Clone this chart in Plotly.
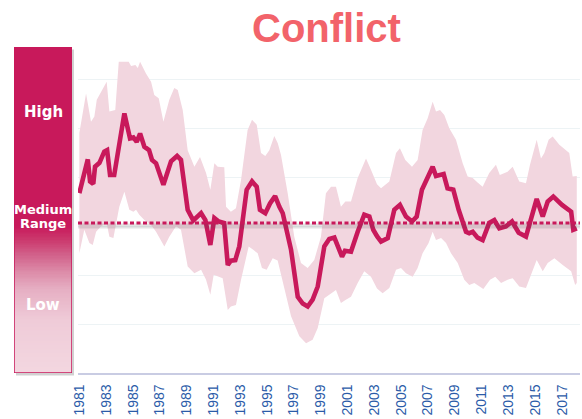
import numpy as np
import plotly.graph_objects as go

# ---------------- data ----------------
TITLE = "Conflict"

mean_years = [1981.00, 1981.63, 1981.80, 1982.04, 1982.17, 1982.50, 1982.86, 1983.07, 1983.29, 1983.60,
              1984.36, 1984.78, 1985.03, 1985.28, 1985.53, 1985.85, 1986.20, 1986.42, 1986.72, 1987.27,
              1987.84, 1988.29, 1988.58, 1989.08, 1989.50, 1990.08, 1990.40, 1990.77, 1991.07, 1991.40,
              1991.80, 1992.07, 1992.30, 1992.63, 1992.93, 1993.48, 1993.88, 1994.23, 1994.47, 1994.87,
              1995.22, 1995.60, 1995.92, 1996.17, 1996.79, 1997.29, 1997.66, 1998.03, 1998.40, 1998.78,
              1999.27, 1999.64, 2000.02, 2000.27, 2000.59, 2000.81, 2001.26, 2001.76, 2002.25, 2002.63,
              2002.92, 2003.20, 2003.50, 2004.00, 2004.49, 2004.91, 2005.36, 2005.81, 2006.16, 2006.55,
              2006.98, 2007.35, 2007.60, 2007.84, 2008.17, 2008.46, 2008.89, 2009.29, 2009.84, 2010.08,
              2010.34, 2010.70, 2011.08, 2011.57, 2011.95, 2012.32, 2012.82, 2013.27, 2013.77, 2014.31,
              2015.11, 2015.56, 2015.93, 2016.35, 2017.00, 2017.68, 2017.84, 2018.10]
mean_values = [3.68, 4.37, 3.92, 3.87, 4.22, 4.30, 4.53, 4.56, 4.05, 4.05,
               5.31, 4.80, 4.82, 4.73, 4.90, 4.63, 4.56, 4.36, 4.29, 3.85,
               4.33, 4.44, 4.36, 3.34, 3.12, 3.27, 3.13, 2.62, 3.17, 3.10,
               3.07, 2.21, 2.30, 2.31, 2.59, 3.75, 3.92, 3.81, 3.34, 3.27,
               3.47, 3.62, 3.40, 3.27, 2.52, 1.56, 1.42, 1.36, 1.50, 1.77,
               2.59, 2.74, 2.77, 2.59, 2.38, 2.50, 2.48, 2.89, 3.24, 3.20,
               2.93, 2.80, 2.69, 2.76, 3.34, 3.44, 3.20, 3.10, 3.20, 3.75,
               3.99, 4.22, 4.03, 4.05, 4.07, 3.78, 3.75, 3.34, 2.89, 2.86,
               2.89, 2.77, 2.72, 3.07, 3.13, 2.96, 3.00, 3.10, 2.87, 2.79,
               3.56, 3.20, 3.51, 3.61, 3.44, 3.30, 2.93, 2.96]

upper_years = [1981.00, 1981.50, 1981.87, 1982.12, 1982.30, 1982.62, 1983.04, 1983.24, 1983.68, 1983.94,
               1984.68, 1984.86, 1985.18, 1985.36, 1985.53, 1985.97, 1986.35, 1986.59, 1986.92, 1987.27,
               1987.71, 1988.08, 1988.34, 1988.71, 1989.08, 1989.58, 1990.00, 1990.45, 1990.77, 1991.07,
               1991.32, 1991.81, 1991.94, 1992.30, 1992.68, 1993.06, 1993.55, 1993.88, 1994.23, 1994.55,
               1994.87, 1995.17, 1995.54, 1995.80, 1996.04, 1996.54, 1997.03, 1997.53, 1998.03, 1998.52,
               1999.02, 1999.39, 1999.77, 2000.14, 2000.51, 2000.84, 2001.26, 2001.76, 2002.38, 2002.75,
               2003.20, 2003.50, 2004.12, 2004.62, 2004.91, 2005.31, 2005.81, 2006.23, 2006.60, 2006.98,
               2007.35, 2007.60, 2007.90, 2008.22, 2008.59, 2009.09, 2009.59, 2009.96, 2010.34, 2010.70,
               2011.08, 2011.57, 2012.07, 2012.36, 2012.94, 2013.32, 2013.81, 2014.31, 2014.61, 2015.11,
               2015.43, 2015.68, 2016.00, 2016.30, 2016.80, 2017.54, 2017.79, 2018.10]
upper_values = [4.91, 5.72, 5.14, 5.25, 5.59, 5.76, 5.96, 5.35, 5.38, 6.37,
                6.37, 6.28, 6.30, 6.24, 6.37, 6.13, 5.96, 5.69, 5.62, 5.14,
                5.59, 5.83, 5.79, 5.38, 4.56, 4.22, 4.42, 4.09, 3.75, 4.29,
                4.22, 4.21, 3.40, 3.30, 3.37, 3.95, 4.97, 5.18, 5.08, 4.50,
                4.44, 4.56, 4.85, 4.70, 4.46, 3.68, 2.79, 2.25, 2.15, 2.31,
                2.79, 3.68, 3.81, 3.81, 3.40, 3.51, 3.51, 3.99, 4.39, 4.16,
                3.86, 3.78, 3.92, 4.50, 4.60, 4.36, 4.22, 4.36, 4.97, 5.21,
                5.55, 5.35, 5.38, 5.28, 5.01, 4.77, 4.29, 4.02, 3.99, 3.90,
                3.81, 4.09, 4.26, 4.05, 4.12, 4.22, 3.92, 3.88, 4.26, 4.77,
                4.39, 4.50, 4.77, 4.84, 4.67, 4.50, 4.02, 4.03]

lower_years = [1981.00, 1981.37, 1981.75, 1982.00, 1982.25, 1982.62, 1983.04, 1983.24, 1983.54, 1983.98,
               1984.36, 1984.73, 1985.03, 1985.23, 1985.47, 1985.85, 1986.35, 1986.72, 1987.34, 1987.71,
               1988.21, 1988.58, 1989.08, 1989.58, 1990.08, 1990.45, 1990.77, 1991.02, 1991.32, 1991.69,
               1992.07, 1992.30, 1992.68, 1993.06, 1993.63, 1993.97, 1994.30, 1994.62, 1994.97, 1995.42,
               1995.79, 1996.17, 1996.79, 1997.41, 1997.91, 1998.40, 1998.78, 1999.27, 1999.77, 2000.14,
               2000.51, 2000.88, 2001.26, 2001.76, 2002.25, 2002.75, 2003.20, 2003.62, 2004.12, 2004.62,
               2004.99, 2005.36, 2005.86, 2006.23, 2006.60, 2007.05, 2007.35, 2007.60, 2007.98, 2008.35,
               2008.72, 2009.22, 2009.71, 2010.08, 2010.46, 2010.83, 2011.13, 2011.63, 2012.02, 2012.45,
               2012.94, 2013.32, 2013.81, 2014.31, 2014.68, 2015.11, 2015.56, 2015.93, 2016.43, 2017.05,
               2017.68, 2017.98, 2018.10]
lower_values = [2.45, 2.93, 2.66, 2.62, 2.89, 3.00, 3.07, 2.79, 2.76, 3.40,
                3.71, 3.34, 3.30, 3.34, 3.24, 3.13, 3.03, 2.89, 2.59, 2.79,
                3.00, 2.93, 2.18, 2.04, 2.11, 1.91, 1.60, 2.01, 1.97, 1.94,
                1.29, 1.36, 1.39, 1.91, 2.59, 2.52, 2.45, 2.15, 2.11, 2.35,
                2.30, 1.84, 1.16, 0.75, 0.61, 0.68, 0.92, 1.53, 1.63, 1.70,
                1.43, 1.50, 1.56, 1.84, 2.08, 1.97, 1.73, 1.63, 1.74, 2.11,
                2.15, 2.04, 1.97, 2.15, 2.45, 2.66, 2.89, 2.72, 2.76, 2.66,
                2.45, 2.25, 1.91, 1.80, 1.84, 1.78, 1.72, 1.91, 1.97, 1.84,
                1.91, 1.94, 1.77, 1.74, 2.01, 2.31, 2.08, 2.25, 2.35, 2.21,
                2.08, 1.80, 1.84]

long_run_mean = 3.07

tick_years = list(range(1981, 2018, 2))
tick_labels = [str(y) for y in tick_years]

level_labels = ["High", "Medium", "Range", "Low"]
level_positions = [0.80, 0.502, 0.458, 0.209]   # fraction of bar height
level_sizes = [15, 13, 13, 15]

# ---------------- styling ----------------
MAGENTA = "#C8195B"
BAND = "#F2D6DF"
W, H = 582, 419
ML, MR, MT, MB = 0, 2, 47, 46
PW = W - ML - MR
PH = H - MT - MB

fig = go.Figure()

# uncertainty band (upper edge then lower edge reversed)
fig.add_trace(go.Scatter(
    x=upper_years + lower_years[::-1],
    y=upper_values + lower_values[::-1],
    fill="toself", fillcolor=BAND, line=dict(width=0),
    mode="lines", hoverinfo="skip", showlegend=False))

# main line
fig.add_trace(go.Scatter(
    x=mean_years, y=mean_values, mode="lines",
    line=dict(color=MAGENTA, width=4.6), showlegend=False))

# left gradient bar (heatmap on its own axes)
ys = np.linspace(0, 1, 240)
fig.add_trace(go.Heatmap(
    x=[0.5], y=ys, z=[[v] for v in ys], zmin=0, zmax=1,
    colorscale=[[0, "#F3D7E0"], [0.16, "#EFCBD8"], [0.255, "#E6AFC3"], [0.31, "#DC8BA8"],
                [0.36, "#D2628B"], [0.41, "#CB376C"], [0.45, MAGENTA], [1, MAGENTA]],
    showscale=False, xaxis="x2", yaxis="y2", hoverinfo="skip"))

bx0, bx1 = 14 / PW, 72 / PW

fig.update_layout(
    width=W, height=H,
    margin=dict(l=ML, r=MR, t=MT, b=MB, autoexpand=False),
    paper_bgcolor="white", plot_bgcolor="white",
    showlegend=False,
    xaxis=dict(domain=[78 / PW, 1], range=[1980.9, 2018.34],
               tickmode="array", tickvals=tick_years, ticktext=tick_labels,
               tickangle=-90, tickfont=dict(family="Liberation Sans, Arial", size=14, color="#2B5BA8"),
               showline=True, linecolor="#C9CCE3", linewidth=1.5,
               ticks="outside", ticklen=4, tickcolor="rgba(0,0,0,0)",
               showgrid=False, zeroline=False, automargin=False),
    yaxis=dict(range=[0, 6.67], dtick=1, showgrid=True, gridcolor="#EDF3F5", gridwidth=1,
               showticklabels=False, zeroline=False, showline=False),
    xaxis2=dict(domain=[bx0, bx1], range=[0, 1], visible=False, anchor="y2"),
    yaxis2=dict(domain=[0, 1], range=[0, 1], visible=False, anchor="x2"),
)

shapes = [
    # bar shadow
    dict(type="rect", xref="paper", yref="paper", x0=bx0 + 2 / PW, x1=bx1 + 2 / PW,
         y0=-2.5 / PH, y1=1 - 2.5 / PH,
         fillcolor="rgba(0,0,0,0.18)", line=dict(width=0), layer="below"),
    # bar border
    dict(type="rect", xref="x2", yref="y2", x0=0, x1=1, y0=0, y1=1,
         line=dict(color=MAGENTA, width=1.5), layer="above"),
    # shadow under the mean line
    dict(type="line", xref="x domain", yref="y", x0=0, x1=1,
         y0=long_run_mean - 0.06, y1=long_run_mean - 0.06,
         line=dict(color="rgba(80,80,80,0.16)", width=5), layer="above"),
    # long-run mean (dotted)
    dict(type="line", xref="x domain", yref="y", x0=0, x1=1,
         y0=long_run_mean, y1=long_run_mean,
         line=dict(color=MAGENTA, width=3, dash="4px,2.5px"), layer="above"),
]
fig.update_layout(shapes=shapes)

annotations = [dict(text="<b>" + TITLE + "</b>", xref="paper", yref="paper",
                    x=326 / PW, y=1 + (47 - 28) / PH, xanchor="center", yanchor="middle",
                    showarrow=False, font=dict(family="Liberation Sans, Arial", size=40, color="#F2636A"))]
for lab, pos, sz in zip(level_labels, level_positions, level_sizes):
    annotations.append(dict(text="<b>" + lab + "</b>", xref="x2", yref="y2", x=0.5, y=pos,
                            xanchor="center", yanchor="middle", showarrow=False,
                            font=dict(family="DejaVu Sans, Verdana", size=sz, color="white")))
fig.update_layout(annotations=annotations)

fig.write_html("out.html", config={"displayModeBar": False},
               post_script="document.body.style.margin='0px';")
